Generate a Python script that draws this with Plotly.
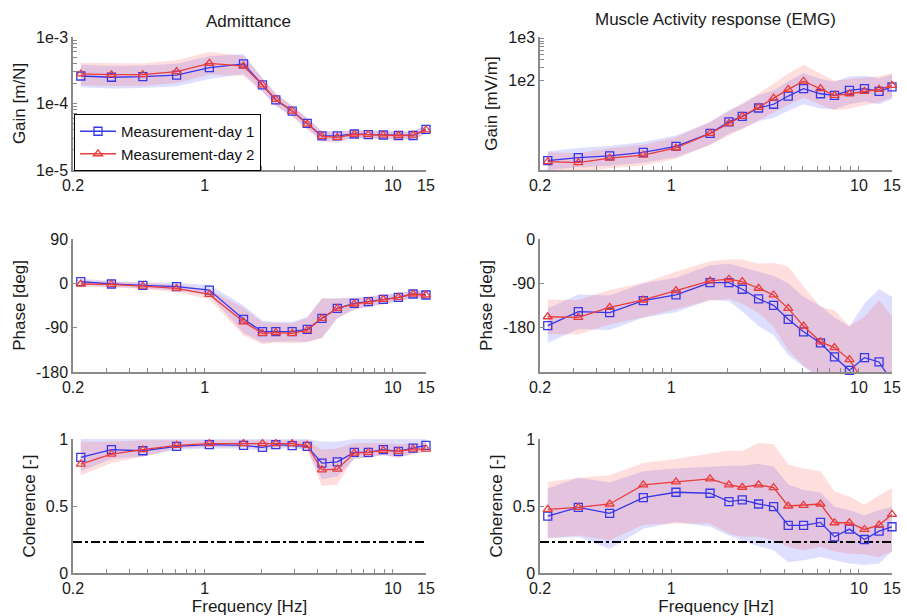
import numpy as np
import plotly.graph_objects as go

# ---------------- data ----------------
freq = [0.22, 0.32, 0.47, 0.71, 1.06, 1.61, 2.03, 2.39, 2.92, 3.51, 4.20, 5.07,
        6.24, 7.41, 8.90, 10.7, 12.8, 15.0]

# Admittance gain [m/N]
adm_gain_d1 = [2.59e-4, 2.48e-4, 2.53e-4, 2.68e-4, 3.46e-4, 3.93e-4, 1.90e-4, 1.13e-4, 7.7e-5,
               5.03e-5, 3.25e-5, 3.25e-5, 3.48e-5, 3.40e-5, 3.36e-5, 3.30e-5, 3.30e-5, 4.09e-5]
adm_gain_d2 = [2.78e-4, 2.71e-4, 2.71e-4, 3.01e-4, 4.02e-4, 3.66e-4, 1.90e-4, 1.15e-4, 7.7e-5,
               4.90e-5, 3.20e-5, 3.10e-5, 3.45e-5, 3.40e-5, 3.35e-5, 3.30e-5, 3.35e-5, 4.00e-5]
# spread of the gain band (decades)
adm_gain_sd1 = [0.17, 0.17, 0.17, 0.17, 0.17, 0.15, 0.10, 0.09, 0.08, 0.08, 0.07, 0.07,
                0.06, 0.06, 0.06, 0.06, 0.06, 0.06]
adm_gain_sd2 = [0.17, 0.17, 0.17, 0.17, 0.17, 0.15, 0.10, 0.09, 0.08, 0.08, 0.08, 0.08,
                0.06, 0.06, 0.06, 0.06, 0.06, 0.06]

# EMG gain [mV/m]
emg_gain_d1 = [1.37, 1.61, 1.77, 2.12, 2.93, 5.85, 10.8, 14.5, 22.7, 27.7, 42.9, 63.7,
               48.5, 44.3, 58.1, 63.7, 55.1, 69.8]
emg_gain_d2 = [1.30, 1.23, 1.56, 1.84, 2.69, 5.85, 10.0, 14.5, 23.6, 38.5, 61.4, 94.6,
               63.7, 44.3, 48.5, 55.1, 61.4, 76.2]
emg_gain_sd1 = [0.22, 0.22, 0.23, 0.24, 0.25, 0.26, 0.27, 0.28, 0.30, 0.32, 0.34, 0.36,
                0.34, 0.32, 0.32, 0.30, 0.30, 0.28]
emg_gain_sd2 = [0.22, 0.22, 0.23, 0.24, 0.25, 0.27, 0.28, 0.30, 0.32, 0.34, 0.36, 0.38,
                0.36, 0.34, 0.34, 0.32, 0.30, 0.28]

# Admittance phase [deg]
adm_phase_d1 = [3.3, -1.4, -4.1, -6.8, -13.6, -73, -98, -98, -98, -93.5, -71, -50.8,
                -40.6, -37.3, -32.6, -28.4, -21.7, -23.7]
adm_phase_d2 = [-1.4, -2.1, -5.5, -10.2, -22.4, -78, -101.5, -100, -101.5, -94.8, -71, -50.8,
                -42, -37.3, -32.6, -28.4, -21.7, -23.7]
adm_phase_sd1 = [6, 6, 6, 8, 10, 28, 22, 20, 20, 25, 40, 20, 12, 10, 10, 8, 8, 8]
adm_phase_sd2 = [6, 6, 6, 8, 10, 28, 22, 20, 20, 25, 40, 20, 12, 10, 10, 8, 8, 8]

# EMG phase [deg]
emg_phase_d1 = [-176, -147.6, -149.6, -125, -113.6, -88.4, -88.4, -102, -121.7, -134.7,
                -163, -188.4, -211, -239.4, -266.6, -240.8, -249.6, -290]
emg_phase_d2 = [-157.8, -159, -138.7, -123.8, -104.7, -85, -81.6, -86.4, -100, -113.6,
                -140.8, -176.8, -208.8, -220.4, -244.8, -292, -310, -320]
emg_phase_sd1 = [35, 35, 35, 35, 35, 35, 38, 45, 55, 60, 73, 71, 75, 80, 89, 110, 148, 173]
emg_phase_sd2 = [35, 35, 35, 35, 38, 40, 40, 45, 50, 65, 85, 80, 72, 76, 68, 134, 186, 162]

# Admittance coherence [-]
adm_coh_d1 = [0.8625, 0.92, 0.9125, 0.945, 0.9575, 0.9525, 0.9375, 0.9575, 0.95, 0.945,
              0.82, 0.83, 0.90, 0.90, 0.92, 0.9075, 0.9325, 0.9525]
adm_coh_d2 = [0.8125, 0.8875, 0.92, 0.9525, 0.965, 0.965, 0.965, 0.965, 0.965, 0.9525,
              0.77, 0.775, 0.895, 0.90, 0.915, 0.9075, 0.925, 0.925]
adm_coh_lo1 = [0.76, 0.85, 0.87, 0.92, 0.93, 0.93, 0.91, 0.93, 0.93, 0.92, 0.70, 0.72,
               0.85, 0.86, 0.88, 0.86, 0.89, 0.91]
adm_coh_hi1 = [1.0, 1.0, 1.0, 1.0, 1.0, 1.0, 1.0, 1.0, 1.0, 1.0, 0.98, 0.98,
               1.0, 1.0, 1.0, 1.0, 1.0, 1.0]
adm_coh_lo2 = [0.73, 0.82, 0.87, 0.93, 0.94, 0.94, 0.93, 0.94, 0.94, 0.92, 0.65, 0.66,
               0.86, 0.86, 0.88, 0.86, 0.89, 0.90]
adm_coh_hi2 = [0.98, 0.98, 0.99, 0.99, 0.99, 0.99, 0.99, 0.99, 0.99, 0.99, 0.92, 0.93,
               0.97, 0.97, 0.97, 0.96, 0.97, 0.97]

# EMG coherence [-]
emg_coh_d1 = [0.425, 0.49, 0.445, 0.5625, 0.6025, 0.595, 0.5325, 0.545, 0.515, 0.495,
              0.355, 0.355, 0.3775, 0.27, 0.3275, 0.25, 0.3125, 0.345]
emg_coh_d2 = [0.475, 0.49, 0.515, 0.6575, 0.68, 0.7025, 0.6575, 0.64, 0.6575, 0.6375,
              0.50, 0.505, 0.515, 0.375, 0.375, 0.325, 0.3575, 0.4375]
emg_coh_lo1 = [0.26, 0.27, 0.18, 0.33, 0.38, 0.345, 0.28, 0.24, 0.20, 0.17, 0.08, 0.095,
               0.12, 0.095, 0.07, 0.06, 0.07, 0.16]
emg_coh_hi1 = [0.63, 0.71, 0.675, 0.76, 0.78, 0.795, 0.80, 0.80, 0.815, 0.795, 0.66, 0.62,
               0.60, 0.495, 0.47, 0.43, 0.47, 0.495]
emg_coh_lo2 = [0.26, 0.28, 0.245, 0.36, 0.37, 0.37, 0.295, 0.27, 0.27, 0.245, 0.195, 0.17,
               0.195, 0.16, 0.145, 0.14, 0.12, 0.16]
emg_coh_hi2 = [0.68, 0.71, 0.73, 0.82, 0.85, 0.895, 0.915, 0.91, 0.97, 0.96, 0.81, 0.78,
               0.76, 0.61, 0.57, 0.51, 0.58, 0.63]

coh_threshold = 0.232

x_tickvals = [0.2, 0.3, 0.4, 0.5, 0.6, 0.7, 0.8, 0.9, 1, 2, 3, 4, 5, 6, 7, 8, 9, 10, 15]
x_ticktext = ['0.2', '', '', '', '', '', '', '', '1', '', '', '', '', '', '', '', '', '10', '15']

series_names = ['Measurement-day 1', 'Measurement-day 2']

# ---------------- style ----------------
W, H = 907, 616
BLUE = 'rgb(55,55,235)'
RED = 'rgb(235,60,60)'
BLUE_FILL = 'rgba(90,90,255,0.20)'
RED_FILL = 'rgba(255,80,80,0.19)'
AX = '#8a8a8a'
FONT = 'Liberation Sans, Arial, sans-serif'

xdom = {'L': [73 / W, 426 / W], 'R': [540 / W, 892 / W]}
ydom = {0: [1 - 170 / H, 1 - 37 / H], 1: [1 - 372 / H, 1 - 239 / H], 2: [1 - 573 / H, 1 - 439 / H]}

fig = go.Figure()


def add_panel(idx, col, row, d1, d2, lo1, hi1, lo2, hi2, legend=False, threshold=None):
    xa = 'x' if idx == 1 else f'x{idx}'
    ya = 'y' if idx == 1 else f'y{idx}'
    for lo, hi, fc in ((lo1, hi1, BLUE_FILL), (lo2, hi2, RED_FILL)):
        fig.add_trace(go.Scatter(
            x=list(freq) + list(freq[::-1]), y=list(hi) + list(lo[::-1]),
            fill='toself', fillcolor=fc, line=dict(width=0), mode='lines',
            hoverinfo='skip', showlegend=False, xaxis=xa, yaxis=ya))
    if threshold is not None:
        fig.add_trace(go.Scatter(x=[x_tickvals[0], x_tickvals[-1]], y=[threshold, threshold],
                                 mode='lines', line=dict(color='black', width=2, dash='dashdot'),
                                 showlegend=False, xaxis=xa, yaxis=ya))
    for vals, color, sym, name in ((d1, BLUE, 'square-open', series_names[0]),
                                   (d2, RED, 'triangle-up-open', series_names[1])):
        fig.add_trace(go.Scatter(
            x=freq, y=vals, mode='lines+markers', name=name,
            line=dict(color=color, width=1.3),
            marker=dict(symbol=sym, size=8, color=color, line=dict(width=1.3, color=color)),
            cliponaxis=False, showlegend=legend, xaxis=xa, yaxis=ya))
    axcommon = dict(showline=True, linecolor=AX, linewidth=1.5, ticks='inside', ticklen=4,
                    tickcolor=AX, showgrid=False, zeroline=False, mirror=False,
                    automargin=False,
                    tickfont=dict(size=16, color='#1a1a1a', family=FONT))
    xkey = 'xaxis' if idx == 1 else f'xaxis{idx}'
    ykey = 'yaxis' if idx == 1 else f'yaxis{idx}'
    xaxis = dict(axcommon, type='log', domain=xdom[col], anchor=ya,
                 range=[np.log10(0.2), np.log10(15)], tickmode='array',
                 tickvals=x_tickvals, ticktext=x_ticktext)
    if row == 2:
        xaxis['title'] = dict(text='Frequency [Hz]', font=dict(size=17, family=FONT, color='#1a1a1a'),
                              standoff=1)
    return xkey, ykey, xaxis, axcommon


def log_ticks(lo_exp, hi_exp, labels):
    vals, text = [], []
    for e in range(lo_exp, hi_exp):
        for m in range(1, 10):
            vals.append(m * 10.0 ** e)
            text.append(labels.get(e, '') if m == 1 else '')
    vals.append(10.0 ** hi_exp)
    text.append(labels.get(hi_exp, ''))
    return vals, text


layout_axes = {}
ytitle_font = dict(size=17, family=FONT, color='#1a1a1a')

# Panel 1: admittance gain
g1 = np.array(adm_gain_d1); g2 = np.array(adm_gain_d2)
s1 = np.array(adm_gain_sd1); s2 = np.array(adm_gain_sd2)
xk, yk, xa, ac = add_panel(1, 'L', 0, adm_gain_d1, adm_gain_d2,
                           list(g1 * 10 ** -s1), list(g1 * 10 ** s1),
                           list(g2 * 10 ** -s2), list(g2 * 10 ** s2), legend=True)
tv, tt = log_ticks(-5, -3, {-5: '1e-5', -4: '1e-4', -3: '1e-3'})
layout_axes[xk] = xa
layout_axes[yk] = dict(ac, type='log', domain=ydom[0], anchor='x', range=[-5, -3],
                       tickmode='array', tickvals=tv, ticktext=tt,
                       title=dict(text='Gain [m/N]', font=ytitle_font, standoff=6))

# Panel 2: EMG gain
e1 = np.array(emg_gain_d1); e2 = np.array(emg_gain_d2)
t1 = np.array(emg_gain_sd1); t2 = np.array(emg_gain_sd2)
xk, yk, xa, ac = add_panel(2, 'R', 0, emg_gain_d1, emg_gain_d2,
                           list(e1 * 10 ** -t1), list(e1 * 10 ** t1),
                           list(e2 * 10 ** -t2), list(e2 * 10 ** t2))
tv2, tt2 = log_ticks(2, 3, {2: '1e2', 3: '1e3'})
layout_axes[xk] = xa
layout_axes[yk] = dict(ac, type='log', domain=ydom[0], anchor='x2', range=[-0.08, 3],
                       tickmode='array', tickvals=tv2, ticktext=tt2,
                       title=dict(text='Gain [mV/m]', font=ytitle_font, standoff=6))

# Panel 3: admittance phase
p1 = np.array(adm_phase_d1); p2 = np.array(adm_phase_d2)
w1 = np.array(adm_phase_sd1); w2 = np.array(adm_phase_sd2)
xk, yk, xa, ac = add_panel(3, 'L', 1, adm_phase_d1, adm_phase_d2,
                           list(p1 - w1), list(p1 + w1), list(p2 - w2), list(p2 + w2))
layout_axes[xk] = xa
layout_axes[yk] = dict(ac, domain=ydom[1], anchor='x3', range=[-180, 90],
                       tickmode='array', tickvals=[-180, -90, 0, 90],
                       ticktext=['-180', '-90', '0', '90'],
                       title=dict(text='Phase [deg]', font=ytitle_font, standoff=6))

# Panel 4: EMG phase
q1 = np.array(emg_phase_d1); q2 = np.array(emg_phase_d2)
v1 = np.array(emg_phase_sd1); v2 = np.array(emg_phase_sd2)
xk, yk, xa, ac = add_panel(4, 'R', 1, emg_phase_d1, emg_phase_d2,
                           list(q1 - v1), list(q1 + v1), list(q2 - v2), list(q2 + v2))
layout_axes[xk] = xa
layout_axes[yk] = dict(ac, domain=ydom[1], anchor='x4', range=[-270, 0],
                       tickmode='array', tickvals=[-270, -180, -90, 0],
                       ticktext=['', '-180', '-90', '0'],
                       title=dict(text='Phase [deg]', font=ytitle_font, standoff=6))

# Panel 5: admittance coherence
xk, yk, xa, ac = add_panel(5, 'L', 2, adm_coh_d1, adm_coh_d2,
                           adm_coh_lo1, adm_coh_hi1, adm_coh_lo2, adm_coh_hi2,
                           threshold=coh_threshold)
layout_axes[xk] = xa
layout_axes[yk] = dict(ac, domain=ydom[2], anchor='x5', range=[0, 1],
                       tickmode='array', tickvals=[0, 0.5, 1], ticktext=['0', '0.5', '1'],
                       title=dict(text='Coherence [-]', font=ytitle_font, standoff=6))

# Panel 6: EMG coherence
xk, yk, xa, ac = add_panel(6, 'R', 2, emg_coh_d1, emg_coh_d2,
                           emg_coh_lo1, emg_coh_hi1, emg_coh_lo2, emg_coh_hi2,
                           threshold=coh_threshold)
layout_axes[xk] = xa
layout_axes[yk] = dict(ac, domain=ydom[2], anchor='x6', range=[0, 1],
                       tickmode='array', tickvals=[0, 0.5, 1], ticktext=['0', '0.5', '1'],
                       title=dict(text='Coherence [-]', font=ytitle_font, standoff=6))

fig.update_layout(
    width=W, height=H, margin=dict(l=0, r=0, t=0, b=0, autoexpand=False),
    paper_bgcolor='white', plot_bgcolor='white',
    font=dict(family=FONT, size=16, color='#1a1a1a'),
    showlegend=True,
    legend=dict(x=74 / W, y=1 - 114 / H, xanchor='left', yanchor='top',
                bordercolor='black', borderwidth=1, bgcolor='white',
                font=dict(size=15, family=FONT, color='#111'),
                tracegroupgap=0, itemwidth=36),
    annotations=[
        dict(text='Admittance', x=249 / W, y=1 - 22 / H, xref='paper', yref='paper',
             xanchor='center', yanchor='middle',
             showarrow=False, font=dict(size=17, family=FONT, color='#1a1a1a')),
        dict(text='Muscle Activity response (EMG)', x=715 / W, y=1 - 20 / H,
             xref='paper', yref='paper', xanchor='center', yanchor='middle', showarrow=False,
             font=dict(size=17, family=FONT, color='#1a1a1a')),
    ],
    **layout_axes,
)

fig.write_html('out.html')
